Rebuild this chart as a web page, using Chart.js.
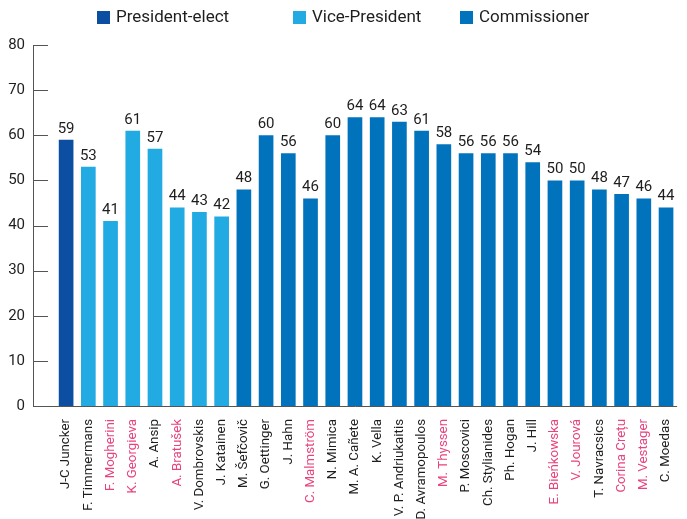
<!DOCTYPE html>
<html>
<head>
<meta charset="utf-8">
<script src="https://cdn.jsdelivr.net/npm/chart.js@4.4.1/dist/chart.umd.min.js"></script>
<style>
  html, body { margin: 0; padding: 0; background: #fff; }
  #wrap { width: 687px; height: 519px; }
</style>
</head>
<body>
<div id="wrap"><canvas id="chart"></canvas></div>
<script>
// hearing scores per candidate
const names = ['J-C Juncker', 'F. Timmermans', 'F. Mogherini', 'K. Georgieva', 'A. Ansip', 'A. Bratušek',
  'V. Dombrovskis', 'J. Katainen', 'M. Šefčovič', 'G. Oettinger', 'J. Hahn', 'C. Malmström', 'N. Mimica',
  'M. A. Cañete', 'K. Vella', 'V. P. Andriukaitis', 'D. Avramopoulos', 'M. Thyssen', 'P. Moscovici',
  'Ch. Stylianides', 'Ph. Hogan', 'J. Hill', 'E. Bieńkowska', 'V. Jourová', 'T. Navracsics', 'Corina Crețu',
  'M. Vestager', 'C. Moedas'];
const scores = [59, 53, 41, 61, 57, 44, 43, 42, 48, 60, 56, 46, 60, 64, 64, 63, 61, 58, 56, 56, 56, 54, 50, 50, 48, 47, 46, 44];
// P = President-elect, V = Vice-President, C = Commissioner
const roles = ['P', 'V', 'V', 'V', 'V', 'V', 'V', 'V', 'C', 'C', 'C', 'C', 'C', 'C',
  'C', 'C', 'C', 'C', 'C', 'C', 'C', 'C', 'C', 'C', 'C', 'C', 'C', 'C'];
// names printed in pink
const pink = [false, false, true, true, false, true, false, false, false, false, false, true, false, false,
  false, false, false, true, false, false, false, false, true, true, false, true, true, false];
const roleKeys = ['P', 'V', 'C'];
const roleLabels = ['President-elect', 'Vice-President', 'Commissioner'];
const roleColors = ['#0B4EA2', '#22AAE2', '#0073BC'];

const FONT = 'Roboto, "Open Sans", sans-serif';
const TEXT = '#1e1e1e';
const PINK = '#E8437E';
const AXIS = '#555555';

// axis line, inward ticks, value labels and the legend
const decor = {
  id: 'decor',
  afterDatasetsDraw(chart) {
    const { ctx, chartArea, scales } = chart;
    const y = scales.y;
    const ax = chartArea.left - 22;
    ctx.save();
    ctx.strokeStyle = AXIS;
    ctx.lineWidth = 1;
    ctx.beginPath();
    ctx.moveTo(ax + 0.5, y.getPixelForValue(80));
    ctx.lineTo(ax + 0.5, y.getPixelForValue(0) + 0.5);
    ctx.lineTo(chartArea.right, y.getPixelForValue(0) + 0.5);
    y.ticks.forEach(t => {
      const py = Math.round(y.getPixelForValue(t.value)) + 0.5;
      ctx.moveTo(ax, py);
      ctx.lineTo(ax + 15, py);
    });
    ctx.stroke();

    ctx.fillStyle = TEXT;
    ctx.font = '15px ' + FONT;
    ctx.textAlign = 'center';
    ctx.textBaseline = 'alphabetic';
    chart.data.datasets.forEach((ds, di) => {
      chart.getDatasetMeta(di).data.forEach((bar, i) => {
        if (ds.data[i] == null) return;
        ctx.fillText(ds.data[i], bar.x, bar.y - 7);
      });
    });
    ctx.restore();
  },
  afterDraw(chart) {
    const { ctx } = chart;
    const xs = [97, 293, 460];
    ctx.save();
    ctx.font = '17px ' + FONT;
    ctx.textBaseline = 'middle';
    ctx.textAlign = 'left';
    chart.data.datasets.forEach((ds, i) => {
      ctx.fillStyle = ds.backgroundColor;
      ctx.fillRect(xs[i], 11, 13, 13);
      ctx.fillStyle = TEXT;
      ctx.fillText(ds.label, xs[i] + 19, 18);
    });
    ctx.restore();
  }
};

new Chart(document.getElementById('chart'), {
  type: 'bar',
  data: {
    labels: names,
    datasets: roleKeys.map((k, r) => ({
      label: roleLabels[r],
      data: scores.map((v, i) => roles[i] === k ? v : null),
      backgroundColor: roleColors[r],
      grouped: false,
      barPercentage: 0.66,
      categoryPercentage: 1
    }))
  },
  options: {
    responsive: true,
    maintainAspectRatio: false,
    animation: false,
    layout: { padding: { top: 45, left: 0, right: 0, bottom: 0 } },
    plugins: { legend: { display: false }, tooltip: { enabled: false } },
    scales: {
      x: {
        grid: { display: false },
        border: { display: false },
        ticks: {
          autoSkip: false,
          minRotation: 90,
          maxRotation: 90,
          padding: 5,
          font: { family: FONT, size: 13.3 },
          color: c => pink[c.index] ? PINK : TEXT
        },
        afterFit: s => { s.height = 113; }
      },
      y: {
        min: 0,
        max: 80,
        grid: { display: false },
        border: { display: false },
        ticks: { stepSize: 10, padding: 22, font: { family: FONT, size: 15 }, color: TEXT },
        afterFit: s => { s.width = 55; }
      }
    }
  },
  plugins: [decor]
});
</script>
</body>
</html>
